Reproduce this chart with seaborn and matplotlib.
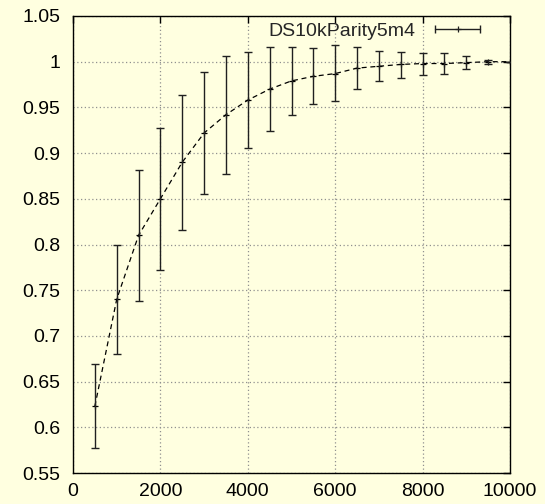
import matplotlib
matplotlib.use("Agg")
import matplotlib.pyplot as plt
import seaborn as sns
import pandas as pd
from matplotlib.lines import Line2D
from matplotlib.legend_handler import HandlerLine2D, HandlerTuple

x_values = [500, 1000, 1500, 2000, 2500, 3000, 3500, 4000, 4500, 5000,
            5500, 6000, 6500, 7000, 7500, 8000, 8500, 9000, 9500, 10000]
mean_values = [0.623, 0.740, 0.810, 0.850, 0.890, 0.922, 0.942, 0.958, 0.970, 0.979,
               0.984, 0.987, 0.993, 0.995, 0.997, 0.998, 0.998, 0.999, 1.000, 1.000]
low_values = [0.577, 0.680, 0.738, 0.772, 0.816, 0.855, 0.877, 0.906, 0.924, 0.942,
              0.954, 0.957, 0.970, 0.979, 0.982, 0.985, 0.986, 0.992, 0.998, 1.000]
high_values = [0.669, 0.800, 0.882, 0.928, 0.964, 0.989, 1.006, 1.011, 1.016, 1.016,
               1.015, 1.018, 1.016, 1.012, 1.011, 1.010, 1.010, 1.006, 1.002, 1.000]
series_label = "DS10kParity5m4"
x_ticks = [0, 2000, 4000, 6000, 8000, 10000]
y_ticks = [0.55, 0.6, 0.65, 0.7, 0.75, 0.8, 0.85, 0.9, 0.95, 1.0, 1.05]
y_tick_labels = ["0.55", "0.6", "0.65", "0.7", "0.75", "0.8", "0.85", "0.9", "0.95", "1", "1.05"]

bg = "#FFFFE0"
sns.set_style("white", {"axes.facecolor": bg, "figure.facecolor": bg})
plt.rcParams["font.family"] = ["Liberation Sans", "DejaVu Sans"]
FS = 14

df = pd.DataFrame({"x": x_values, "mean": mean_values, "lo": low_values, "hi": high_values})

fig = plt.figure(figsize=(5.45, 5.04), dpi=100, facecolor=bg)
ax = fig.add_axes([73/545, 1 - 473/504, (510 - 73)/545, (473 - 16)/504])
ax.set_facecolor(bg)

sns.lineplot(data=df, x="x", y="mean", ax=ax, color="black", lw=0.9,
             linestyle=(0, (4, 3)), marker="+", markersize=5, markeredgewidth=0.9,
             markeredgecolor="black", zorder=3)
ax.errorbar(df["x"], df["mean"],
            yerr=[df["mean"] - df["lo"], df["hi"] - df["mean"]],
            fmt="none", ecolor="#202020", elinewidth=1.0, capsize=2.6, capthick=1.0,
            zorder=3)

ax.set_xlim(0, 10000)
ax.set_ylim(0.55, 1.05)
ax.set_xticks(x_ticks)
ax.set_xticklabels([str(t) for t in x_ticks])
ax.set_yticks(y_ticks)
ax.set_yticklabels(y_tick_labels)
ax.set_xlabel("")
ax.set_ylabel("")
ax.tick_params(direction="in", length=5, width=1, colors="black",
               top=True, right=True, labelsize=FS)
ax.tick_params(axis="y", pad=9)
ax.tick_params(axis="x", pad=7)
for s in ax.spines.values():
    s.set_visible(True)
    s.set_color("black")
    s.set_linewidth(1.0)
ax.grid(True, color="#909090", linestyle=(0, (1, 2)), linewidth=0.9)
ax.set_axisbelow(True)

cap_handle = Line2D([], [], color="#202020", lw=1.0, marker="|", markersize=6,
                    markeredgewidth=1.0)
plus_handle = Line2D([], [], color="#202020", lw=0, marker="+", markersize=5,
                     markeredgewidth=0.9)
leg = ax.legend([(cap_handle, plus_handle)], [series_label], loc="center right",
                frameon=False, markerfirst=False, handlelength=2.9,
                fontsize=FS, borderaxespad=0, borderpad=0, handletextpad=0.72,
                bbox_to_anchor=((486 - 73) / 437, 1 - 15 / 457),
                handler_map={cap_handle: HandlerLine2D(numpoints=2),
                             plus_handle: HandlerLine2D(numpoints=1),
                             tuple: HandlerTuple(ndivide=1, pad=0)})

fig.savefig("out.png", dpi=100, facecolor=bg)
